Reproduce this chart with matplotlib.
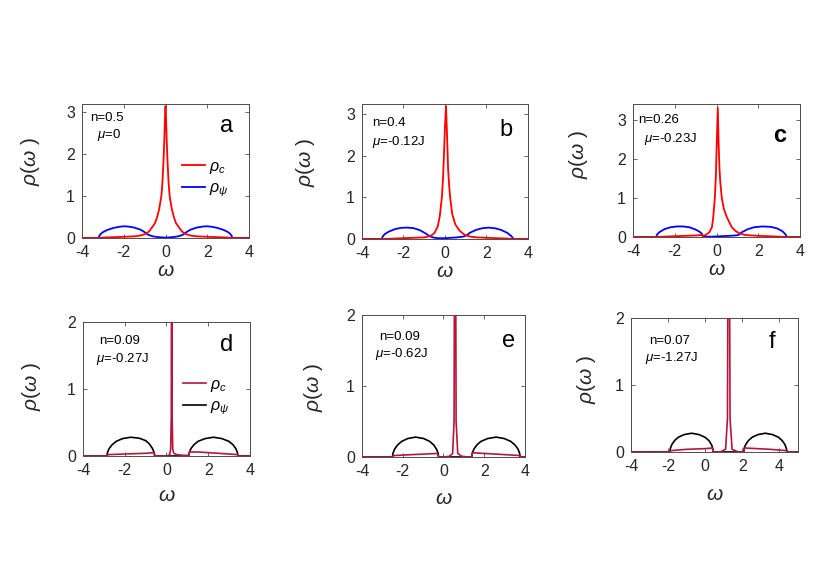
"""
Spectral functions rho_c and rho_psi for six fillings, 2x3 panel figure.
"""
import matplotlib
matplotlib.use("Agg")
import matplotlib.pyplot as plt

plt.rcParams["font.family"] = ["Liberation Sans", "DejaVu Sans"]
plt.rcParams["mathtext.fontset"] = "custom"
plt.rcParams["mathtext.rm"] = "Liberation Sans"
plt.rcParams["mathtext.it"] = "Liberation Sans:italic"
plt.rcParams["axes.unicode_minus"] = False

_RED = "#ff0000"
_BLUE = "#0000ff"
_CRIMSON = "#b5173c"
_BLACK = "#000000"
_SPINE = "#4d4d4d"

# ---- panel a: n=0.5, mu=0
a_w_c = [-4, -3.2, -3.0, -2.5, -2.0, -1.5, -1.2, -1.0, -0.8, -0.65, -0.5, -0.4, -0.3, -0.2,
         -0.15, -0.1, -0.06, -0.03, 0.0, 0.03, 0.06, 0.1, 0.15, 0.2, 0.3, 0.4, 0.5, 0.65,
         0.8, 1.0, 1.2, 1.5, 2.0, 2.5, 3.0, 3.2, 4]
a_rho_c = [0, 0, 0.01, 0.02, 0.03, 0.04, 0.06, 0.09, 0.15, 0.25, 0.36, 0.5, 0.7, 1.0,
           1.3, 1.8, 2.3, 2.8, 3.15, 2.8, 2.3, 1.8, 1.3, 1.0, 0.7, 0.5, 0.36, 0.25,
           0.15, 0.09, 0.06, 0.04, 0.03, 0.02, 0.01, 0, 0]
a_w_psi = [-4, -3.2, -3.17, -3.1, -3.0, -2.8, -2.5, -2.2, -2.0, -1.8, -1.5, -1.2, -1.0,
           -0.9, -0.8, -0.6, -0.4, -0.2, 0.0, 0.2, 0.4, 0.6, 0.8, 0.9, 1.0, 1.2, 1.5,
           1.8, 2.0, 2.2, 2.5, 2.8, 3.0, 3.1, 3.17, 3.2, 4]
a_rho_psi = [0, 0, 0.05, 0.1, 0.14, 0.19, 0.24, 0.27, 0.28, 0.275, 0.25, 0.2, 0.14,
             0.1, 0.07, 0.04, 0.025, 0.015, 0.01, 0.015, 0.025, 0.04, 0.07, 0.1, 0.14,
             0.2, 0.25, 0.275, 0.28, 0.27, 0.24, 0.19, 0.14, 0.1, 0.05, 0, 0]

# ---- panel b: n=0.4, mu=-0.12J
b_w_c = [-4, -3.0, -2.5, -2.0, -1.5, -1.0, -0.7, -0.5, -0.35, -0.25, -0.15, -0.1, -0.05,
         0.0, 0.05, 0.1, 0.15, 0.2, 0.25, 0.35, 0.5, 0.7, 0.95, 1.2, 1.5, 2.0, 2.5, 3.0,
         3.3, 4]
b_rho_c = [0, 0, 0.01, 0.02, 0.03, 0.04, 0.07, 0.15, 0.3, 0.55, 1.0, 1.4, 2.0,
           2.7, 3.2, 2.5, 1.7, 1.3, 1.0, 0.6, 0.35, 0.2, 0.1, 0.06, 0.04, 0.03, 0.02,
           0.01, 0, 0]
b_w_psi = [-4, -3.05, -3.0, -2.9, -2.7, -2.4, -2.1, -1.8, -1.5, -1.2, -0.95, -0.8, -0.65,
           -0.5, -0.3, 0.0, 0.3, 0.6, 0.9, 1.05, 1.2, 1.5, 1.8, 2.1, 2.4, 2.7, 3.0, 3.2,
           3.28, 3.3, 4]
b_rho_psi = [0, 0, 0.06, 0.12, 0.18, 0.24, 0.27, 0.275, 0.26, 0.21, 0.14, 0.09, 0.05,
             0.03, 0.02, 0.02, 0.03, 0.04, 0.06, 0.09, 0.15, 0.22, 0.26, 0.275, 0.26,
             0.22, 0.15, 0.07, 0.02, 0, 0]

# ---- panel c: n=0.26, mu=-0.23J
c_w_c = [-4, -3.0, -2.5, -2.0, -1.5, -1.0, -0.7, -0.62, -0.5, -0.35, -0.22, -0.16, -0.08,
         -0.03, 0.0, 0.06, 0.1, 0.14, 0.18, 0.25, 0.35, 0.5, 0.73, 0.9, 1.1, 1.4, 2.0,
         2.5, 3.0, 3.4, 4]
c_rho_c = [0, 0, 0.01, 0.02, 0.03, 0.04, 0.05, 0.03, 0.06, 0.12, 0.25, 0.5, 1.0,
           1.6, 2.2, 3.3, 2.4, 1.75, 1.4, 1.0, 0.72, 0.5, 0.25, 0.16, 0.09, 0.05, 0.03,
           0.02, 0.01, 0, 0]
c_w_psi = [-4, -2.9, -2.85, -2.75, -2.5, -2.2, -1.9, -1.6, -1.3, -1.0, -0.8, -0.7, -0.65,
           -0.5, -0.2, 0.2, 0.6, 0.9, 1.05, 1.2, 1.5, 1.8, 2.2, 2.6, 2.9, 3.15, 3.3, 3.38, 4]
c_rho_psi = [0, 0, 0.06, 0.12, 0.2, 0.25, 0.27, 0.27, 0.25, 0.19, 0.13, 0.08, 0.02,
             0.01, 0.01, 0.02, 0.03, 0.04, 0.05, 0.12, 0.2, 0.25, 0.27, 0.26, 0.22, 0.15,
             0.07, 0, 0]

# ---- panel d: n=0.09, mu=-0.27J
d_w_c = [-4, -2.85, -2.8, -2.0, -1.0, -0.6, -0.55, -0.3, 0.0, 0.15, 0.2, 0.23, 0.25, 0.27,
         0.3, 0.35, 0.5, 0.8, 1.0, 1.07, 1.1, 1.5, 2.0, 2.5, 3.0, 3.4, 3.45, 4]
d_rho_c = [0, 0, 0.02, 0.03, 0.04, 0.05, 0.0, 0.0, 0.0, 0.02, 0.1, 0.6, 6.0, 0.6,
           0.1, 0.04, 0.02, 0.01, 0.01, 0.0, 0.06, 0.06, 0.05, 0.04, 0.03, 0.02, 0, 0]
d_w_psi = [-4, -2.85, -2.83, -2.75, -2.6, -2.4, -2.1, -1.71, -1.3, -1.0, -0.82, -0.67,
           -0.59, -0.57, 1.07, 1.09, 1.17, 1.32, 1.52, 1.85, 2.25, 2.65, 2.98, 3.18,
           3.32, 3.40, 3.42, 4]
d_rho_psi = [0, 0, 0.05, 0.11, 0.17, 0.22, 0.26, 0.28, 0.265, 0.23, 0.18, 0.11,
             0.05, 0, 0, 0.05, 0.11, 0.17, 0.22, 0.26, 0.28, 0.26, 0.22, 0.17,
             0.11, 0.05, 0, 0]

# ---- panel e: n=0.09, mu=-0.62J
e_w_c = [-4, -2.5, -2.45, -1.8, -1.0, -0.3, -0.24, 0.0, 0.3, 0.45, 0.52, 0.57, 0.62,
         0.7, 0.9, 1.2, 1.39, 1.42, 2.0, 2.6, 3.2, 3.76, 3.8, 4]
e_rho_c = [0, 0, 0.02, 0.03, 0.04, 0.05, 0.0, 0.0, 0.01, 0.05, 0.5, 6.0, 0.5,
           0.05, 0.01, 0.0, 0.0, 0.06, 0.05, 0.04, 0.03, 0.02, 0, 0]
e_w_psi = [-4, -2.5, -2.48, -2.4, -2.25, -2.05, -1.75, -1.37, -0.97, -0.68, -0.48,
           -0.34, -0.26, -0.24, 1.39, 1.41, 1.49, 1.64, 1.84, 2.17, 2.58, 2.98, 3.3,
           3.51, 3.66, 3.74, 3.76, 4]
e_rho_psi = [0, 0, 0.05, 0.11, 0.17, 0.22, 0.26, 0.28, 0.26, 0.22, 0.17, 0.11,
             0.05, 0, 0, 0.05, 0.11, 0.17, 0.22, 0.26, 0.28, 0.26, 0.22, 0.17,
             0.11, 0.05, 0, 0]

# ---- panel f: n=0.07, mu=-1.27J
f_w_c = [-4, -1.9, -1.85, -1.0, 0.0, 0.38, 0.43, 0.8, 1.1, 1.2, 1.27, 1.34, 1.45, 1.8,
         2.08, 2.1, 2.8, 3.5, 4.4, 4.45, 5]
f_rho_c = [0, 0, 0.02, 0.04, 0.05, 0.06, 0.0, 0.0, 0.04, 0.5, 6.0, 0.5, 0.04, 0.0,
           0.0, 0.06, 0.05, 0.04, 0.02, 0, 0]
f_w_psi = [-4, -1.9, -1.88, -1.8, -1.65, -1.45, -1.13, -0.73, -0.33, -0.01, 0.2, 0.34,
           0.41, 0.43, 2.08, 2.1, 2.18, 2.33, 2.53, 2.85, 3.24, 3.63, 3.95, 4.15,
           4.3, 4.38, 4.4, 5]
f_rho_psi = [0, 0, 0.05, 0.11, 0.17, 0.22, 0.26, 0.28, 0.26, 0.22, 0.17, 0.11,
             0.05, 0, 0, 0.05, 0.11, 0.17, 0.22, 0.26, 0.28, 0.26, 0.22, 0.17,
             0.11, 0.05, 0, 0]

panels = [
    dict(key="a", rect=[0.0988, 0.5952, 0.2012, 0.2279], xlim=(-4, 4), ylim=(0, 3.2),
         c=(a_w_c, a_rho_c), psi=(a_w_psi, a_rho_psi), cols=(_RED, _BLUE),
         n="n=0.5", mu=r"$\mu$=0", tpos=((0.15, 0.895, "center"), (0.16, 0.77, "center")),
         lpos=(0.866, 0.836), bold=False, ylab=(-0.24, 0.57), xlab=-0.17, legend=True),
    dict(key="b", rect=[0.4361, 0.5935, 0.2000, 0.2296], xlim=(-4, 4), ylim=(0, 3.25),
         c=(b_w_c, b_rho_c), psi=(b_w_psi, b_rho_psi), cols=(_RED, _BLUE),
         n="n=0.4", mu=r"$\mu$=-0.12J", tpos=((0.06, 0.86, "left"), (0.06, 0.72, "left")),
         lpos=(0.87, 0.81), bold=False, ylab=(-0.27, 0.57), xlab=-0.17, legend=False),
    dict(key="c", rect=[0.7627, 0.5969, 0.2012, 0.2262], xlim=(-4, 4), ylim=(0, 3.4),
         c=(c_w_c, c_rho_c), psi=(c_w_psi, c_rho_psi), cols=(_RED, _BLUE),
         n="n=0.26", mu=r"$\mu$=-0.23J", tpos=((0.03, 0.88, "left"), (0.066, 0.737, "left")),
         lpos=(0.88, 0.767), bold=True, ylab=(-0.257, 0.62), xlab=-0.17, legend=False),
    dict(key="d", rect=[0.1000, 0.2245, 0.2012, 0.2279], xlim=(-4, 4), ylim=(0, 2),
         c=(d_w_c, d_rho_c), psi=(d_w_psi, d_rho_psi), cols=(_CRIMSON, _BLACK),
         n="n=0.09", mu=r"$\mu$=-0.27J", tpos=((0.22, 0.858, "center"), (0.234, 0.724, "center")),
         lpos=(0.862, 0.828), bold=False, ylab=(-0.24, 0.52), xlab=-0.225, legend=True),
    dict(key="e", rect=[0.4361, 0.2228, 0.1964, 0.2415], xlim=(-4, 4), ylim=(0, 2),
         c=(e_w_c, e_rho_c), psi=(e_w_psi, e_rho_psi), cols=(_CRIMSON, _BLACK),
         n="n=0.09", mu=r"$\mu$=-0.62J", tpos=((0.233, 0.845, "center"), (0.245, 0.725, "center")),
         lpos=(0.9, 0.817), bold=False, ylab=(-0.227, 0.49), xlab=-0.225, legend=False),
    dict(key="f", rect=[0.7602, 0.2313, 0.2012, 0.2279], xlim=(-4, 5), ylim=(0, 2),
         c=(f_w_c, f_rho_c), psi=(f_w_psi, f_rho_psi), cols=(_CRIMSON, _BLACK),
         n="n=0.07", mu=r"$\mu$=-1.27J", tpos=((0.234, 0.828, "center"), (0.245, 0.70, "center")),
         lpos=(0.844, 0.82), bold=False, ylab=(-0.2, 0.54), xlab=-0.25, legend=False),
]

fig = plt.figure(figsize=(8.3, 5.88), dpi=100)

for p in panels:
    ax = fig.add_axes(p["rect"])
    lw = 1.3 if p["cols"][0] == _RED else 1.2
    ax.plot(*p["c"], color=p["cols"][0], lw=lw, label=r"$\rho_c$", zorder=3)
    ax.plot(*p["psi"], color=p["cols"][1], lw=lw, label=r"$\rho_\psi$", zorder=2)
    ax.set_xlim(*p["xlim"])
    ax.set_ylim(*p["ylim"])
    ax.set_xticks([-4, -2, 0, 2, 4])
    ax.set_yticks(list(range(0, int(p["ylim"][1]) + 1)))
    ax.tick_params(direction="in", top=True, right=True, length=3, width=0.6,
                   color=_SPINE, labelsize=11.5, labelcolor="#262626", pad=5)
    for s in ax.spines.values():
        s.set_color(_SPINE)
        s.set_linewidth(0.7)
    ax.set_ylabel(r"$\rho(\omega\ )$", fontsize=15, color="#262626")
    ax.yaxis.set_label_coords(*p["ylab"])
    ax.set_xlabel(r"$\omega$", fontsize=15, color="#262626")
    ax.xaxis.set_label_coords(0.5, p["xlab"])

    (x1, y1, h1), (x2, y2, h2) = p["tpos"]
    ax.text(x1, y1, p["n"], transform=ax.transAxes, ha=h1, va="center", fontsize=9.5)
    ax.text(x2, y2, p["mu"], transform=ax.transAxes, ha=h2, va="center", fontsize=9.5)
    ax.text(*p["lpos"], p["key"], transform=ax.transAxes, ha="center", va="center",
            fontsize=17, fontweight="bold" if p["bold"] else "normal")

    if p["legend"]:
        ax.legend(loc="center left", bbox_to_anchor=(0.6, 0.44), frameon=False,
                  fontsize=11.5, handlelength=1.4, handletextpad=0.3, labelspacing=0.3,
                  borderpad=0, borderaxespad=0)

fig.savefig("out.png", dpi=100)
plt.close(fig)
